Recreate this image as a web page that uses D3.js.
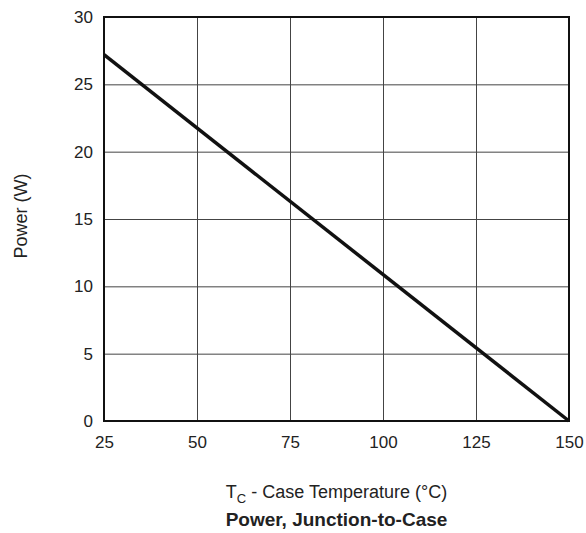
<!DOCTYPE html>
<html>
<head>
<meta charset="utf-8">
<script src="https://cdn.jsdelivr.net/npm/d3@7"></script>
<style>
  body { margin: 0; background: #fff; }
  text { font-family: "Liberation Sans", Arial, sans-serif; fill: #222; }
</style>
</head>
<body>
<div id="chart"></div>
<script>
// data
const temps = [25, 150];
const power = [27.2, 0];
const xTicks = [25, 50, 75, 100, 125, 150];
const yTicks = [0, 5, 10, 15, 20, 25, 30];

const margin = { top: 17, right: 17, bottom: 112, left: 104 },
  width = 586 - margin.left - margin.right,
  height = 533 - margin.top - margin.bottom;

const svg = d3
  .select("#chart")
  .append("svg")
  .attr("width", 586)
  .attr("height", 533);

const g = svg.append("g").attr("transform", `translate(${margin.left},${margin.top})`);

const x = d3.scaleLinear().domain([25, 150]).range([0, width]);
const y = d3.scaleLinear().domain([0, 30]).range([height, 0]);

// gridlines
g.append("g")
  .attr("transform", `translate(0,${height})`)
  .call(d3.axisBottom(x).tickValues(xTicks).tickSize(-height).tickFormat(""))
  .call((s) => s.select(".domain").remove())
  .selectAll("line")
  .attr("stroke", "#444")
  .attr("stroke-width", 1);

g.append("g")
  .call(d3.axisLeft(y).tickValues(yTicks).tickSize(-width).tickFormat(""))
  .call((s) => s.select(".domain").remove())
  .selectAll("line")
  .attr("stroke", "#444")
  .attr("stroke-width", 1);

// frame
g.append("rect")
  .attr("width", width)
  .attr("height", height)
  .attr("fill", "none")
  .attr("stroke", "#111")
  .attr("stroke-width", 2);

// tick labels
const xAxis = g.append("g")
  .attr("transform", `translate(0,${height})`)
  .call(d3.axisBottom(x).tickValues(xTicks).tickSize(0).tickPadding(15));
xAxis.select(".domain").remove();
xAxis.selectAll("text").style("font-size", "17px").attr("fill", "#222");

const yAxis = g.append("g")
  .call(d3.axisLeft(y).tickValues(yTicks).tickSize(0).tickPadding(11));
yAxis.select(".domain").remove();
yAxis.selectAll("text").style("font-size", "17px").attr("fill", "#222");

// derating line
const pts = temps.map((t, i) => ({ t: t, p: power[i] }));
g.append("path")
  .datum(pts)
  .attr("fill", "none")
  .attr("stroke", "#111")
  .attr("stroke-width", 3.5)
  .attr("d", d3.line().x((d) => x(d.t)).y((d) => y(d.p)));

// axis titles
svg.append("text")
  .attr("transform", `translate(27,${margin.top + height / 2 - 3}) rotate(-90)`)
  .attr("text-anchor", "middle")
  .style("font-size", "18px")
  .text("Power (W)");

const xl = svg.append("text")
  .attr("x", margin.left + width / 2)
  .attr("y", 498)
  .attr("text-anchor", "middle")
  .style("font-size", "18px");
xl.append("tspan").text("T");
xl.append("tspan").attr("dy", 5).style("font-size", "13px").text("C");
xl.append("tspan").attr("dy", -5).text(" - Case Temperature (°C)");

svg.append("text")
  .attr("x", margin.left + width / 2)
  .attr("y", 526)
  .attr("text-anchor", "middle")
  .style("font-size", "19px")
  .style("font-weight", "bold")
  .attr("fill", "#111")
  .text("Power, Junction-to-Case");
</script>
</body>
</html>
